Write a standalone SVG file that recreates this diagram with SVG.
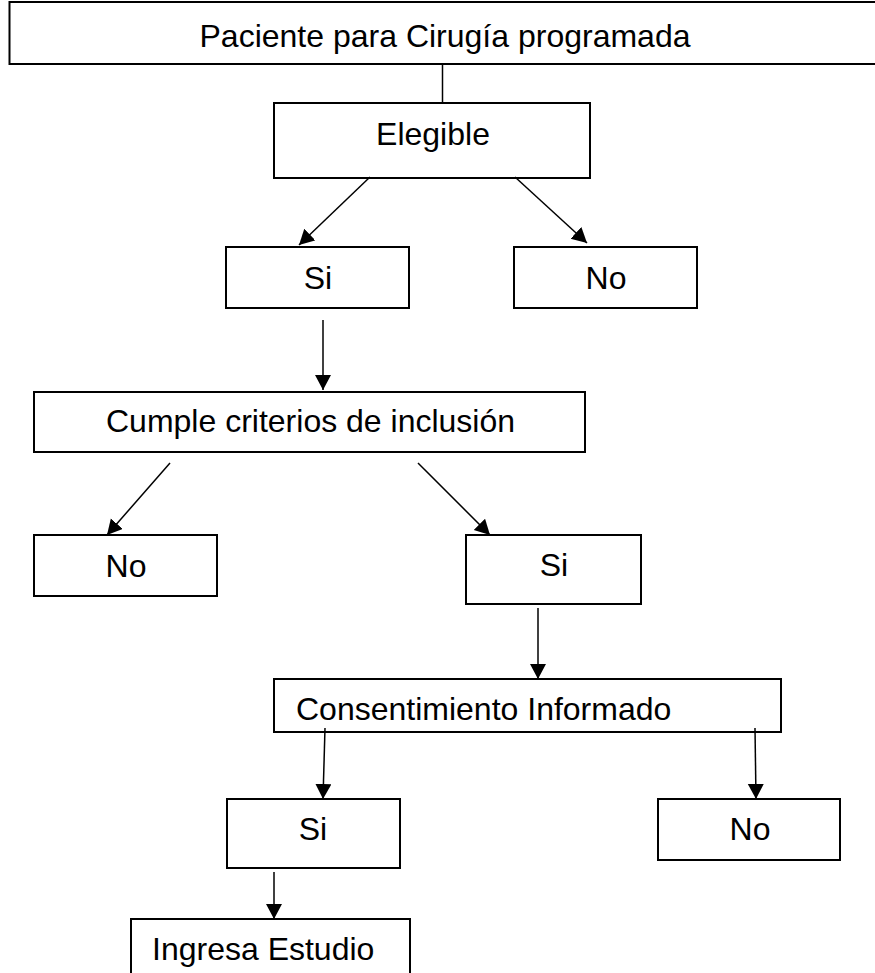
<svg xmlns="http://www.w3.org/2000/svg" width="875" height="973" viewBox="0 0 875 973">
<style>
.box{fill:#fff;stroke:#000;stroke-width:2}
.t{font-family:"Liberation Sans",Arial,sans-serif;font-size:32px;fill:#000}
.c{stroke:#000;stroke-width:1.5;fill:none}
.a{marker-end:url(#arr)}
</style>
<defs>
<marker id="arr" markerUnits="userSpaceOnUse" markerWidth="16" markerHeight="17" refX="15" refY="8" orient="auto">
<path d="M0,0 L15,8 L0,16 z" fill="#000"/>
</marker>
</defs>
<g id="n-paciente"><rect class="box" x="9.5" y="2" width="880" height="62"/><text class="t" x="445" y="47" text-anchor="middle">Paciente para Cirugía programada</text></g>
<g id="n-elegible"><rect class="box" x="274" y="103" width="316" height="75"/><text class="t" x="433" y="145" text-anchor="middle">Elegible</text></g>
<g id="n-si1"><rect class="box" x="226" y="247" width="183" height="61"/><text class="t" x="318" y="289" text-anchor="middle">Si</text></g>
<g id="n-no1"><rect class="box" x="514" y="247" width="183" height="61"/><text class="t" x="606" y="289" text-anchor="middle">No</text></g>
<g id="n-cumple"><rect class="box" x="34" y="392" width="551" height="60"/><text class="t" x="106" y="432">Cumple criterios de inclusión</text></g>
<g id="n-no2"><rect class="box" x="34" y="535" width="183" height="61"/><text class="t" x="126" y="577" text-anchor="middle">No</text></g>
<g id="n-si2"><rect class="box" x="466" y="535" width="175" height="69"/><text class="t" x="554" y="576" text-anchor="middle">Si</text></g>
<g id="n-consent"><rect class="box" x="274" y="679" width="507" height="53"/><text class="t" x="296" y="720">Consentimiento Informado</text></g>
<g id="n-si3"><rect class="box" x="227" y="799" width="173" height="69"/><text class="t" x="313" y="840" text-anchor="middle">Si</text></g>
<g id="n-no3"><rect class="box" x="658" y="799" width="182" height="61"/><text class="t" x="750" y="840" text-anchor="middle">No</text></g>
<g id="n-ingresa"><rect class="box" x="131" y="919" width="279" height="80"/><text class="t" x="152" y="960">Ingresa Estudio</text></g>
<g id="connectors">
<line class="c" x1="442.5" y1="64" x2="442.5" y2="103"/>
<line class="c a" x1="370" y1="177" x2="299" y2="245"/>
<line class="c a" x1="515" y1="177" x2="587" y2="243"/>
<line class="c a" x1="323" y1="320" x2="323" y2="390"/>
<line class="c a" x1="170" y1="463" x2="107" y2="535"/>
<line class="c a" x1="418" y1="463" x2="490" y2="535"/>
<line class="c a" x1="538" y1="608" x2="538" y2="679"/>
<line class="c a" x1="325" y1="728" x2="323" y2="799"/>
<line class="c a" x1="755" y1="728" x2="756" y2="799"/>
<line class="c a" x1="274" y1="872" x2="274" y2="919"/>
</g>
</svg>
